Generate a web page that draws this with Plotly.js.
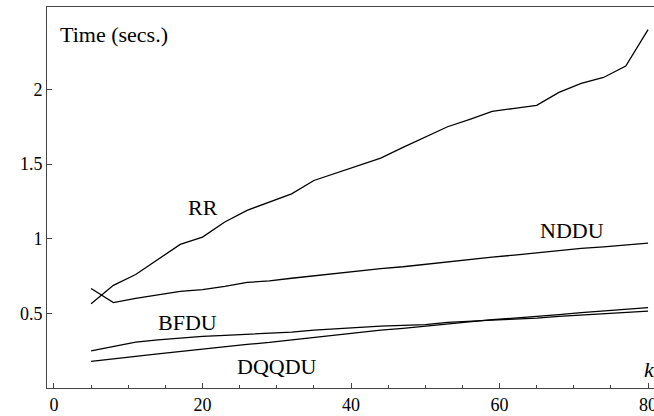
<!DOCTYPE html>
<html>
<head>
<meta charset="utf-8">
<script src="https://cdn.plot.ly/plotly-3.0.1.min.js"></script>
<style>html,body{margin:0;padding:0;background:#fff}#chart{width:654px;height:416px}</style>
</head>
<body>
<div id="chart"></div>
<script>
const kValues = [5, 8, 11, 14, 17, 20, 23, 26, 29, 32, 35, 38, 41, 44, 47, 50, 53, 56, 59, 62, 65, 68, 71, 74, 77, 80];
const rrTime = [0.565, 0.688, 0.76, 0.861, 0.962, 1.011, 1.112, 1.19, 1.245, 1.30, 1.39, 1.44, 1.49, 1.54, 1.612, 1.68, 1.75, 1.80, 1.853, 1.873, 1.893, 1.98, 2.04, 2.08, 2.157, 2.40];
const ndduTime = [0.666, 0.572, 0.60, 0.625, 0.647, 0.659, 0.68, 0.707, 0.718, 0.735, 0.752, 0.77, 0.785, 0.80, 0.812, 0.828, 0.848, 0.863, 0.877, 0.89, 0.905, 0.922, 0.935, 0.945, 0.958, 0.971];
const bfduTime = [0.248, 0.278, 0.308, 0.322, 0.336, 0.346, 0.353, 0.36, 0.367, 0.374, 0.387, 0.397, 0.407, 0.414, 0.42, 0.425, 0.44, 0.45, 0.455, 0.462, 0.468, 0.48, 0.49, 0.50, 0.508, 0.515];
const dqqduTime = [0.179, 0.198, 0.212, 0.228, 0.245, 0.262, 0.278, 0.292, 0.305, 0.322, 0.338, 0.355, 0.37, 0.387, 0.40, 0.415, 0.432, 0.447, 0.458, 0.468, 0.478, 0.492, 0.505, 0.515, 0.525, 0.538];
const seriesNames = ["RR", "NDDU", "BFDU", "DQQDU"];
const xTicks = [0, 20, 40, 60, 80];
const yTicks = [0.5, 1, 1.5, 2];
const yTickText = ["0.5", "1", "1.5", "2"];

const font = "Times New Roman, serif";
const allSeries = [rrTime, ndduTime, bfduTime, dqqduTime];
const traces = allSeries.map((ys, i) => ({
  x: kValues, y: ys, type: "scatter", mode: "lines", name: seriesNames[i],
  line: {color: "#000", width: 1.3}, hoverinfo: "skip"
}));

const labelPos = [[20.0, 1.21], [69.8, 1.056], [18.0, 0.44], [30.0, 0.145]];
const annotations = seriesNames.map((n, i) => ({
  text: n, x: labelPos[i][0], y: labelPos[i][1], xref: "x", yref: "y",
  showarrow: false, font: {family: font, size: 22, color: "#000"}
}));
annotations.push({text: "<i>k</i>", x: 80.2, y: 0.123, xref: "x", yref: "y", showarrow: false,
  font: {family: font, size: 22, color: "#000"}});
annotations.push({text: "Time (secs.)", x: 0.5, y: 2.37, xref: "x", yref: "y", xanchor: "left", showarrow: false,
  font: {family: font, size: 22, color: "#000"}});

const layout = {
  width: 654, height: 416,
  margin: {l: 47, r: 0, t: 7, b: 28, pad: 0},
  paper_bgcolor: "#fff", plot_bgcolor: "#fff",
  showlegend: false,
  font: {family: font, size: 18, color: "#000"},
  xaxis: {
    range: [-0.94, 80.8], showgrid: false, zeroline: false,
    showline: true, mirror: true, linecolor: "#444", linewidth: 1,
    tickmode: "array", tickvals: xTicks, ticktext: xTicks.map(String),
    ticks: "inside", ticklen: 5, tickcolor: "#444", tickwidth: 1,
    ticklabeloverflow: "allow",
    minor: {dtick: 5, tick0: 0, ticks: "inside", ticklen: 3, tickcolor: "#444", tickwidth: 1, showgrid: false},
    tickfont: {family: font, size: 18, color: "#000"}
  },
  yaxis: {
    range: [0, 2.552], showgrid: false, zeroline: false,
    showline: true, linecolor: "#444", linewidth: 1,
    tickmode: "array", tickvals: yTicks, ticktext: yTickText,
    ticks: "inside", ticklen: 5, tickcolor: "#444", tickwidth: 1,
    tickfont: {family: font, size: 18, color: "#000"}
  },
  annotations: annotations
};

Plotly.newPlot("chart", traces, layout, {staticPlot: true, displayModeBar: false});
</script>
</body>
</html>
